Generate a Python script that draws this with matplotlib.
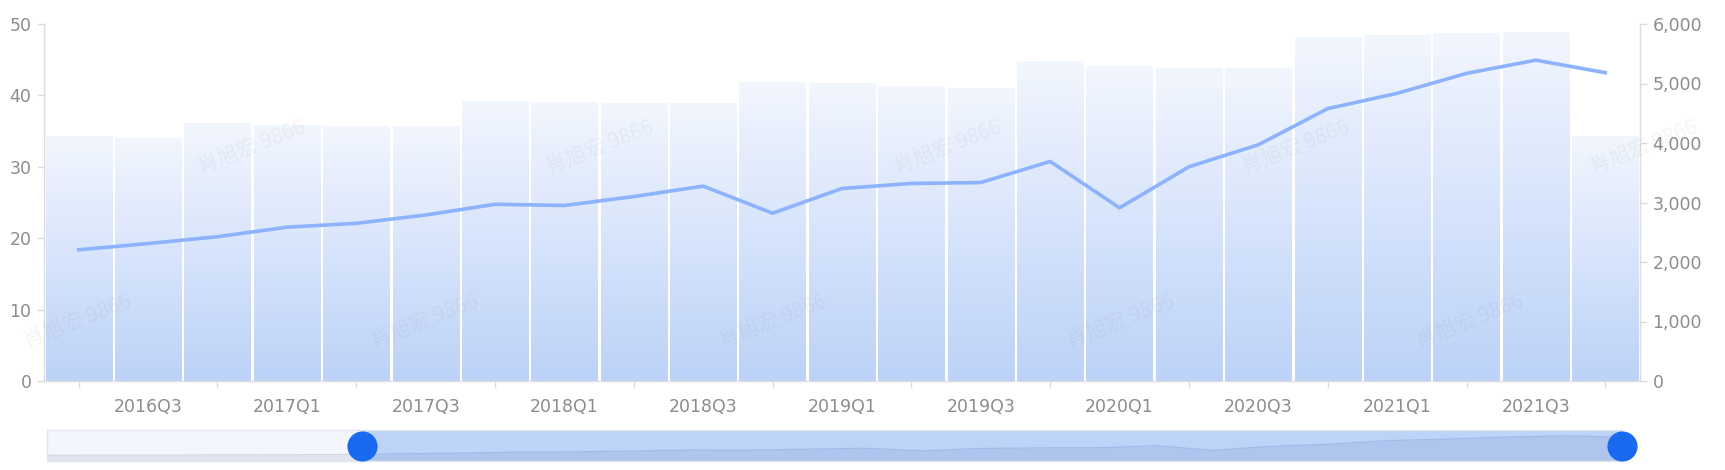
import numpy as np
import matplotlib
matplotlib.use('Agg')
import matplotlib.pyplot as plt
from matplotlib.colors import LinearSegmentedColormap
from matplotlib.ticker import FuncFormatter
from matplotlib.patches import Rectangle

# ---------------- data ----------------
quarters = ['2016Q2', '2016Q3', '2016Q4', '2017Q1', '2017Q2', '2017Q3', '2017Q4',
            '2018Q1', '2018Q2', '2018Q3', '2018Q4', '2019Q1', '2019Q2', '2019Q3',
            '2019Q4', '2020Q1', '2020Q2', '2020Q3', '2020Q4', '2021Q1', '2021Q2',
            '2021Q3', '2021Q4']
bar_values = [34.3, 34.0, 36.0, 35.8, 35.7, 35.6, 39.2, 39.0, 38.9, 38.8, 41.8, 41.7,
              41.2, 41.0, 44.7, 44.0, 43.8, 43.7, 48.1, 48.4, 48.7, 48.8, 34.2]
line_values = [2205, 2310, 2425, 2585, 2650, 2790, 2970, 2950, 3100, 3275, 2820, 3235,
               3320, 3335, 3690, 2910, 3600, 3970, 4578, 4835, 5170, 5392, 5182]
# quarters before the zoom window (only visible as data shadow in the slider)
hidden_quarters = ['2015Q1', '2015Q2', '2015Q3', '2015Q4', '2016Q1']
hidden_line_values = [2080, 2110, 2100, 2140, 2130]
zoom_start, zoom_end = 20, 100
watermark = '肖旭宏 9866'

# ---------------- style ----------------
W, H = 1725, 470
label_color = '#8c8c8c'
axis_color = '#dcdcdc'
plt.rcParams['font.family'] = ['DejaVu Sans']

fig = plt.figure(figsize=(W / 100, H / 100), dpi=100)
fig.patch.set_facecolor('white')

ax = fig.add_axes([44 / W, 1 - 381 / H, (1640 - 44) / W, (381 - 24) / H])
ax2 = ax.twinx()

x = np.arange(len(quarters))
bars = ax.bar(x, bar_values, width=0.955, color='none', edgecolor='none')
cmap = LinearSegmentedColormap.from_list('g', ['#bcd2f8', '#f2f6fe'])
grad = np.linspace(0, 1, 256).reshape(-1, 1)
for p in bars.patches:
    x0, y0, w, h = p.get_x(), p.get_y(), p.get_width(), p.get_height()
    ax.imshow(grad, extent=[x0, x0 + w, y0, y0 + h], origin='lower', cmap=cmap,
              aspect='auto', zorder=1, interpolation='bilinear')
ax.set_xlim(-0.5, len(quarters) - 0.5)
ax.set_ylim(0, 50)

ax2.plot(x, line_values, color='#8cb3fb', lw=2.6, zorder=3)
ax2.set_ylim(0, 6000)

# axes styling
for sp in ['top', 'right']:
    ax.spines[sp].set_visible(False)
for sp in ['top', 'left', 'bottom']:
    ax2.spines[sp].set_visible(False)
for sp in [ax.spines['left'], ax.spines['bottom'], ax2.spines['right']]:
    sp.set_color(axis_color)
    sp.set_linewidth(1.0)

ax.set_xticks(x[1::2])
ax.set_xticklabels(quarters[1::2])
ax.set_xticks(x[0::2], minor=True)
ax.tick_params(axis='x', which='major', length=0, pad=12, labelsize=12.5, labelcolor=label_color)
ax.tick_params(axis='x', which='minor', length=5, color=axis_color, width=1)
ax.set_yticks(range(0, 51, 10))
ax.tick_params(axis='y', length=5, color=axis_color, width=1, pad=4,
               labelsize=12.5, labelcolor=label_color)
ax2.set_yticks(range(0, 6001, 1000))
ax2.yaxis.set_major_formatter(FuncFormatter(lambda v, _: f'{v:,.0f}'))
ax2.tick_params(axis='y', length=5, color=axis_color, width=1, pad=4,
                labelsize=12.5, labelcolor=label_color)

# watermarks
wm_rows = [(148, [252, 600, 948, 1296, 1644]), (322, [78, 425, 773, 1121, 1470])]
for yy, xs_ in wm_rows:
    for xx in xs_:
        fig.text(xx / W, 1 - yy / H, watermark, rotation=21, ha='center', va='center',
                 fontsize=15, color='#7a7a7a', alpha=0.08,
                 family=['Noto Sans CJK SC', 'DejaVu Sans'], zorder=10)

# ---------------- data zoom slider ----------------
sax = fig.add_axes([47 / W, 1 - 461 / H, (1622 - 47) / W, 31 / H])
all_line = hidden_line_values + line_values
n = len(all_line)
xs = np.arange(n)
lo, hi = min(all_line), max(all_line)
pad = (hi - lo) * 0.3
ymin, ymax = lo - pad, hi + pad
sax.set_xlim(0, n - 1)
sax.set_ylim(ymin, ymax)
s = zoom_start / 100 * (n - 1)
e = zoom_end / 100 * (n - 1)
sax.axvspan(0, s, color='#f3f6fd', lw=0, zorder=0)
sax.axvspan(s, e, color='#bdd3f8', lw=0, zorder=0)
sh1 = sax.fill_between(xs, ymin, all_line, color='#e1e6ee', lw=0, zorder=1)
sh1.set_clip_path(Rectangle((0, ymin), s, ymax - ymin, transform=sax.transData))
sh2 = sax.fill_between(xs, ymin, all_line, color='#aec5ee', lw=0, zorder=1)
sh2.set_clip_path(Rectangle((s, ymin), e - s, ymax - ymin, transform=sax.transData))
l1, = sax.plot(xs, all_line, color='#d0d7e2', lw=0.8, zorder=2)
l1.set_clip_path(Rectangle((0, ymin), s, ymax - ymin, transform=sax.transData))
l2, = sax.plot(xs, all_line, color='#9fb9e8', lw=0.8, zorder=2)
l2.set_clip_path(Rectangle((s, ymin), e - s, ymax - ymin, transform=sax.transData))
mid = (ymin + ymax) / 2
sax.scatter([s, e], [mid, mid], s=470, color='#1a6aef', zorder=5, clip_on=False, lw=0)
sax.set_xticks([])
sax.set_yticks([])
for sp in sax.spines.values():
    sp.set_color('#e2e6ec')
    sp.set_linewidth(1.0)

fig.savefig('out.png', dpi=100, facecolor='white')
